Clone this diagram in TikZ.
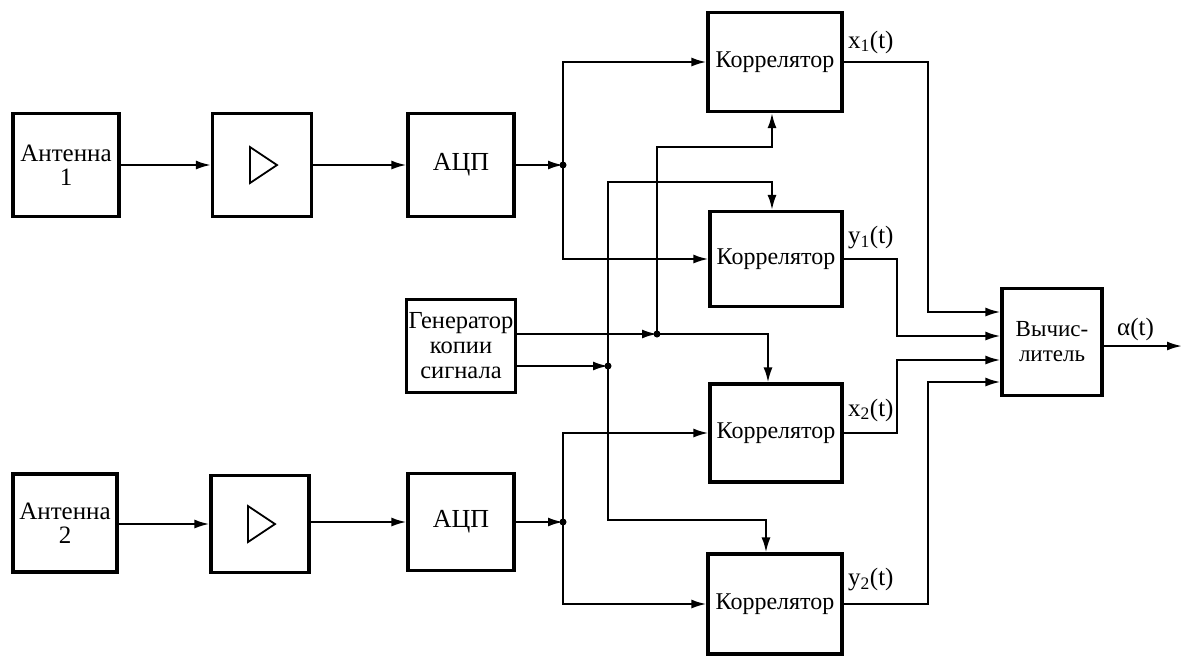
\documentclass[tikz,border=0pt]{standalone}
\usepackage{fontspec}
\setmainfont{Liberation Serif}
\usetikzlibrary{arrows.meta,calc}
\begin{document}
\begin{tikzpicture}[x=1pt,y=-1pt,
  box/.style={draw,line width=3.2pt,inner sep=0pt,align=center,
    font=\fontsize{24}{26}\selectfont},
  wire/.style={line width=2.1pt},
  arr/.style={wire,-{Latex[length=15pt,width=9pt]}},
  lab/.style={inner sep=0pt,anchor=west,font=\fontsize{25}{26}\selectfont},
  dot/.style={circle,fill,inner sep=0pt,minimum size=7pt}]
\useasboundingbox (0,0) rectangle (1186,657);
\fill[white] (0,0) rectangle (1186,657);
% blocks
\node[box,minimum width=106pt,minimum height=103pt,font=\fontsize{25}{24}\selectfont] (ant1) at (66,165) {Антенна\\1};
\node[box,minimum width=99pt,minimum height=103pt] (amp1) at (262,165) {};
\node[box,minimum width=106pt,minimum height=103pt,font=\fontsize{26}{26}\selectfont] (adc1) at (461,165) {АЦП};
\node[box,minimum width=104pt,minimum height=98pt,font=\fontsize{25}{24}\selectfont] (ant2) at (65,523) {Антенна\\2};
\node[box,minimum width=98pt,minimum height=97pt] (amp2) at (260,524) {};
\node[box,minimum width=106pt,minimum height=97pt,font=\fontsize{26}{26}\selectfont] (adc2) at (461,522) {АЦП};
\node[box,minimum width=109pt,minimum height=93pt,font=\fontsize{24.5}{25}\selectfont] (gen) at (461,346) {Генератор\\копии\\сигнала};
\node[box,minimum width=134pt,minimum height=99pt] (c1) at (775,62) {Коррелятор};
\node[box,minimum width=132pt,minimum height=95pt] (c2) at (776,259) {Коррелятор};
\node[box,minimum width=132pt,minimum height=98pt] (c3) at (776,433) {Коррелятор};
\node[box,minimum width=134pt,minimum height=100pt] (c4) at (775,604) {Коррелятор};
\node[box,minimum width=100pt,minimum height=107pt,font=\fontsize{23}{25}\selectfont] (vych) at (1052,342) {Вычис-\\литель};
% amplifier symbols
\draw[line width=1.8pt,line join=miter] (amp1.center) ++(-12,-18) -- ++(0,36) -- ++(27,-18) -- cycle;
\draw[line width=1.8pt,line join=miter] (amp2.center) ++(-12,-18) -- ++(0,36) -- ++(27,-18) -- cycle;
% junctions and bends
\coordinate (j1) at (563,165);
\coordinate (j2) at (657,334);
\coordinate (j3) at (608,366);
\coordinate (j4) at (563,522);
\coordinate (b1) at (657,147);
\coordinate (b2) at (608,182);
\coordinate (b3) at (608,520);
\coordinate (out) at (1182,346);
% chains
\draw[arr] (ant1) -- (amp1);
\draw[arr] (amp1) -- (adc1);
\draw[arr] (adc1) -- (j1);
\draw[arr] (ant2.east |- amp2) -- (amp2);
\draw[arr] (amp2.east |- adc2) -- (adc2);
\draw[arr] (adc2) -- (j4);
\draw[arr] (j1) |- (c1.west);
\draw[arr] (j1) |- (c2.west);
\draw[arr] (j4) |- (c3.west);
\draw[arr] (j4) |- (c4.west);
% generator
\draw[arr] ([yshift=12pt]gen.east) -- (j2);
\draw[arr] ([yshift=-20pt]gen.east) -- (j3);
\draw[arr] (j2) -- (b1) -| ([xshift=-3pt]c1.south);
\draw[arr] (j2) -| ([xshift=-8pt]c3.north);
\draw[arr] (j3) -- (b2) -| ([xshift=-4pt]c2.north);
\draw[arr] (j3) -- (b3) -| ([xshift=-9pt]c4.north);
\node[dot] at (j1) {};
\node[dot] at (j2) {};
\node[dot] at (j3) {};
\node[dot] at (j4) {};
% outputs
\draw[arr] (c1.east) -- ++(84,0) |- ([yshift=30pt]vych.west);
\draw[arr] (c2.east) -- ++(53,0) |- ([yshift=6pt]vych.west);
\draw[arr] (c3.east) -- ++(53,0) |- ([yshift=-18pt]vych.west);
\draw[arr] (c4.east) -- ++(84,0) |- ([yshift=-40pt]vych.west);
\draw[arr] (vych.east |- out) -- (out);
% labels
\node[lab] (lx1) at (848,42) {x\textsubscript{1}(t)};
\node[lab] (ly1) at (848,238) {y\textsubscript{1}(t)};
\node[lab] (lx2) at (848,410) {x\textsubscript{2}(t)};
\node[lab] (ly2) at (848,580) {y\textsubscript{2}(t)};
\node[lab] (la) at (1117,329) {α(t)};
\end{tikzpicture}
\end{document}
